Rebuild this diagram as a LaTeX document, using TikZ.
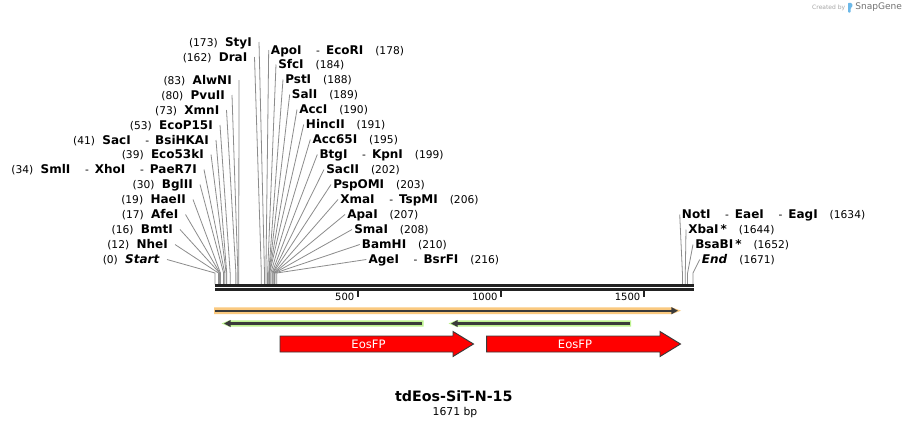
\documentclass[tikz,border=0pt]{standalone}
\usepackage{fontspec}
\setmainfont{DejaVu Sans}
\usetikzlibrary{arrows.meta}
\definecolor{lgray}{HTML}{8C8C8C}
\definecolor{seqc}{HTML}{222222}
\definecolor{orangeL}{HTML}{FAC97F}
\definecolor{greenL}{HTML}{BDF28F}
\definecolor{darkL}{HTML}{3A3A3A}
\definecolor{eosred}{HTML}{FF0000}
\definecolor{logoblue}{HTML}{6CB8E8}
\newcommand\nmf{\fontsize{9}{10}\selectfont\bfseries}
\newcommand\nbf{\fontsize{8}{9}\selectfont\mdseries}
\newcommand\enzN[1]{{\nbf #1}}
\newcommand\gL{\hspace{5.5pt}}
\newcommand\gR{\hspace{9pt}}
\newcommand\dsh{\hspace{11pt}{\nbf -}\hspace{4.5pt}}
\tikzset{
  lbl/.style={font=\nmf, inner sep=0pt, text height=6.6pt, text depth=0pt},
  pinbox/.style={rectangle, draw=none, inner sep=0pt, outer sep=0pt, minimum width=0pt, minimum height=9.75pt},
  conn/.style={draw=lgray, line width=0.6pt},
  seqline/.style={draw=seqc, line width=1.7pt},
  tick/.style={draw=seqc, line width=1.5pt},
  ticklbl/.style={font=\fontsize{7.5}{9}\selectfont, inner sep=0pt, anchor=east},
  eos/.style={fill=eosred, draw=darkL, line width=0.7pt},
  eoslbl/.style={font=\fontsize{8.7}{10}\selectfont, text=white, inner sep=0pt}
}
% left label: id, bp, y, end x, text
\newcommand\enzL[5]{%
  \node[lbl, anchor=east] (t#1) at (#4,#3) {#5};
  \node[pinbox] (p#1) at (#4+7,#3) {};
  \coordinate (k#1) at ({215+0.28606*#2},273);
  \coordinate (s#1) at ({215+0.28606*#2},284.4);
  \draw[conn] (p#1) -- (k#1) -- (s#1);
}
% right label: id, bp, y, start x, text
\newcommand\enzR[5]{%
  \node[lbl, anchor=west] (t#1) at (#4,#3) {#5};
  \node[pinbox] (p#1) at (#4-2,#3) {};
  \coordinate (k#1) at ({215+0.28606*#2},273);
  \coordinate (s#1) at ({215+0.28606*#2},284.4);
  \draw[conn] (p#1) -- (k#1) -- (s#1);
}
\begin{document}
\begin{tikzpicture}[x=0.75pt, y=-0.75pt]
\fill[white] (0,0) rectangle (909,429);
\useasboundingbox (0,0) rectangle (909,429);

% ---- left enzyme labels
\enzL{a1}{173}{42}{252}{\enzN{(173)}\gL StyI}
\enzL{a2}{162}{57}{247.5}{\enzN{(162)}\gL DraI}
\enzL{a3}{83}{80}{232}{\enzN{(83)}\gL AlwNI}
\enzL{a4}{80}{95}{225}{\enzN{(80)}\gL PvuII}
\enzL{a5}{73}{110}{219.5}{\enzN{(73)}\gL XmnI}
\enzL{a6}{53}{125}{213}{\enzN{(53)}\gL EcoP15I}
\enzL{a7}{41}{140}{209}{\enzN{(41)}\gL SacI\dsh BsiHKAI}
\enzL{a8}{39}{154.5}{204}{\enzN{(39)}\gL Eco53kI}
\enzL{a9}{34}{169.5}{197}{\enzN{(34)}\gL SmlI\dsh XhoI\dsh PaeR7I}
\enzL{a10}{30}{184.5}{193}{\enzN{(30)}\gL BglII}
\enzL{a11}{19}{199.5}{186}{\enzN{(19)}\gL HaeII}
\enzL{a12}{17}{214.5}{178.5}{\enzN{(17)}\gL AfeI}
\enzL{a13}{16}{229.5}{173}{\enzN{(16)}\gL BmtI}
\enzL{a14}{12}{244.5}{168}{\enzN{(12)}\gL NheI}
\enzL{a15}{0}{259.5}{160}{\enzN{(0)}\gL\textit{Start}}

% ---- right enzyme labels
\enzR{b1}{178}{50}{270.7}{ApoI\dsh EcoRI\gR\enzN{(178)}}
\enzR{b2}{184}{64.5}{278}{SfcI\gR\enzN{(184)}}
\enzR{b3}{188}{79.5}{285}{PstI\gR\enzN{(188)}}
\enzR{b4}{189}{94.5}{291.7}{SalI\gR\enzN{(189)}}
\enzR{b5}{190}{109.5}{299}{AccI\gR\enzN{(190)}}
\enzR{b6}{191}{124.5}{305.7}{HincII\gR\enzN{(191)}}
\enzR{b7}{195}{139.5}{312.3}{Acc65I\gR\enzN{(195)}}
\enzR{b8}{199}{154.5}{319.3}{BtgI\dsh KpnI\gR\enzN{(199)}}
\enzR{b9}{202}{169.5}{326}{SacII\gR\enzN{(202)}}
\enzR{b10}{203}{184.5}{333}{PspOMI\gR\enzN{(203)}}
\enzR{b11}{206}{199.5}{340}{XmaI\dsh TspMI\gR\enzN{(206)}}
\enzR{b12}{207}{214.5}{347}{ApaI\gR\enzN{(207)}}
\enzR{b13}{208}{229.5}{354}{SmaI\gR\enzN{(208)}}
\enzR{b14}{210}{244.5}{361.7}{BamHI\gR\enzN{(210)}}
\enzR{b15}{216}{259.5}{368.3}{AgeI\dsh BsrFI\gR\enzN{(216)}}

\enzR{c1}{1634}{214.5}{681.7}{NotI\dsh EaeI\dsh EagI\gR\enzN{(1634)}}
\enzR{c2}{1644}{229.5}{688}{XbaI\,*\gR\enzN{(1644)}}
\enzR{c3}{1652}{244.5}{695}{BsaBI\,*\gR\enzN{(1652)}}
\enzR{c4}{1671}{259.5}{701.7}{\textit{End}\gR\enzN{(1671)}}

% ---- sequence backbone
\coordinate (L1) at (215,285.5); \coordinate (R1) at (693.5,285.5);
\coordinate (L2) at (215,289.5); \coordinate (R2) at (693.5,289.5);
\draw[seqline] (L1) -- (R1);
\draw[seqline] (L2) -- (R2);

% ---- ticks
\foreach \v/\x in {500/358, 1000/501.3, 1500/644} {
  \coordinate (ta\v) at (\x,290.5);
  \coordinate (tb\v) at (\x,297);
  \draw[tick] (ta\v) -- (tb\v);
  \node[ticklbl] (tl\v) at (\x-3.5,296.5) {\v};
}

% ---- orange feature
\fill[orangeL] (214,307.4) -- (672,307.4) -- (681,310.7) -- (672,314) -- (214,314) -- cycle;
\coordinate (oa) at (215,310.7); \coordinate (ob) at (678,310.7);
\draw[darkL, line width=1.6pt, -{Triangle[length=5pt,width=5pt]}] (oa) -- (ob);

% ---- green features
\fill[greenL] (423.5,320.4) -- (229,320.4) -- (221.5,323.5) -- (229,326.6) -- (423.5,326.6) -- cycle;
\coordinate (ga1) at (422,323.5); \coordinate (gb1) at (224,323.5);
\draw[darkL, line width=1.6pt, -{Triangle[length=5pt,width=5pt]}] (ga1) -- (gb1);
\fill[greenL] (631,320.4) -- (456,320.4) -- (448.5,323.5) -- (456,326.6) -- (631,326.6) -- cycle;
\coordinate (ga2) at (629.5,323.5); \coordinate (gb2) at (451,323.5);
\draw[darkL, line width=1.6pt, -{Triangle[length=5pt,width=5pt]}] (ga2) -- (gb2);

% ---- EosFP arrows
\draw[eos] (280,336) -- (453,336) -- (453,331.5) -- (473.5,344) -- (453,356.5) -- (453,352) -- (280,352) -- cycle;
\node[eoslbl] (e1) at (368.5,344) {EosFP};
\draw[eos] (486.7,336) -- (660,336) -- (660,331.5) -- (680.5,344) -- (660,356.5) -- (660,352) -- (486.7,352) -- cycle;
\node[eoslbl] (e2) at (575,344) {EosFP};

% ---- title
\node[font=\fontsize{10.7}{12}\selectfont\bfseries, inner sep=0pt] (title) at (453.8,396.5) {tdEos-SiT-N-15};
\node[font=\fontsize{8.1}{10}\selectfont, inner sep=0pt] (len) at (455,413) {1671 bp};

% ---- credit
\node[font=\fontsize{4.5}{5}\selectfont, text=black!35, inner sep=0pt, anchor=east] (cb) at (845.5,7.5) {Created by};
\fill[logoblue, rounded corners=0.6pt] (848,12.5) -- (848,2.8) -- (851.2,2.8) -- (852.8,5.4) -- (851.2,8) -- (850.6,8) -- (850.6,12.5) -- cycle;
\node[font=\fontsize{6.8}{8}\selectfont, text=black!55, inner sep=0pt, anchor=west] (sg) at (855,7.5) {SnapGene};
\end{tikzpicture}
\end{document}
